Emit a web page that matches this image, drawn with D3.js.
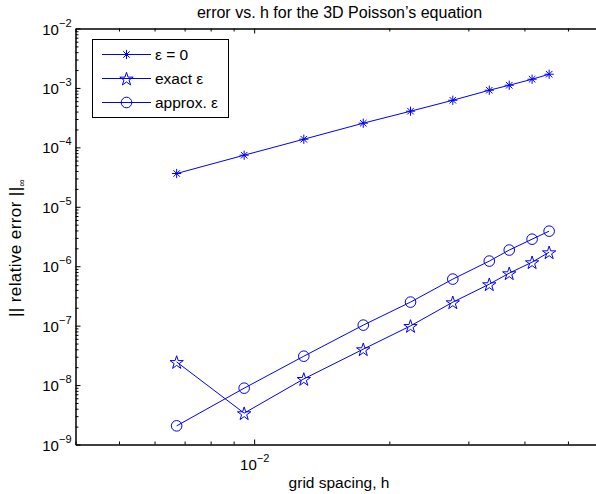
<!DOCTYPE html>
<html>
<head>
<meta charset="utf-8">
<script src="https://cdn.jsdelivr.net/npm/d3@7"></script>
<style>
  html, body { margin: 0; padding: 0; background: #fff; }
  svg { display: block; font-family: "Liberation Sans", Arial, Helvetica, sans-serif; }
</style>
</head>
<body>
<svg id="chart" width="596" height="494"></svg>
<script>
// grid spacing h and the infinity-norm relative error for each run
const hValues   = [0.00672, 0.0095, 0.0129, 0.0175, 0.0223, 0.0277, 0.0334, 0.0370, 0.0416, 0.0454];
const errZero   = [3.63e-5, 7.38e-5, 1.37e-4, 2.55e-4, 4.06e-4, 6.2e-4, 9.15e-4, 1.11e-3, 1.40e-3, 1.70e-3];
const errExact  = [2.45e-8, 3.37e-9, 1.27e-8, 4.02e-8, 9.9e-8, 2.48e-7, 4.99e-7, 7.64e-7, 1.17e-6, 1.72e-6];
const errApprox = [2.06e-9, 8.87e-9, 3.06e-8, 1.02e-7, 2.49e-7, 6.07e-7, 1.22e-6, 1.87e-6, 2.85e-6, 3.89e-6];

const seriesNames   = ["\u03b5 = 0", "exact \u03b5", "approx. \u03b5"];
const seriesMarkers = ["asterisk", "star", "circle"];

const xMajorTicks = [1e-2];
const xMinorTicks = [4e-3, 5e-3, 6e-3, 7e-3, 8e-3, 9e-3, 2e-2, 3e-2, 4e-2, 5e-2, 6e-2];
const yMajorExps  = [-9, -8, -7, -6, -5, -4, -3, -2];

const titleText  = "error vs. h for the 3D Poisson\u2019s equation";
const xLabelText = "grid spacing, h";

const blue = "#0000ff";
const svg = d3.select("#chart");

const axLeft = 75.5, axRight = 603.5, axTop = 28.5, axBottom = 444.5;
const x = d3.scaleLog().domain([4e-3, 6e-2]).range([axLeft, axRight]);
const y = d3.scaleLog().domain([1e-9, 1e-2]).range([axBottom, axTop]);

const yMajorTicks = yMajorExps.map(e => Math.pow(10, e));
const yMinorTicks = [];
yMajorExps.slice(0, -1).forEach(e => {
  for (let k = 2; k <= 9; k++) yMinorTicks.push(k * Math.pow(10, e));
});

const supLabel = (sel, exp) => {
  sel.text(null);
  sel.append("tspan").text("10");
  sel.append("tspan").attr("font-size", 11).attr("dy", -8).text("\u2212" + Math.abs(exp));
};

function styleAxis(g) {
  g.attr("font-family", null).attr("font-size", null);
  g.select(".domain").attr("stroke", "#000").attr("stroke-width", 1);
  g.selectAll(".tick line").attr("stroke", "#000").attr("stroke-width", 1);
  return g;
}

// bottom axis
styleAxis(svg.append("g").attr("transform", `translate(0,${axBottom})`)
  .call(d3.axisBottom(x).tickValues(xMinorTicks).tickSize(-3).tickSizeOuter(0).tickFormat("")));
const gx = styleAxis(svg.append("g").attr("transform", `translate(0,${axBottom})`)
  .call(d3.axisBottom(x).tickValues(xMajorTicks).tickSize(-5).tickSizeOuter(0)));
gx.selectAll(".tick text")
  .attr("y", 25.5).attr("dy", null)
  .attr("fill", "#000").attr("font-size", 15)
  .each(function(d) { supLabel(d3.select(this), Math.round(Math.log10(d))); });

// top axis (mirrored ticks)
styleAxis(svg.append("g").attr("transform", `translate(0,${axTop})`)
  .call(d3.axisTop(x).tickValues(xMinorTicks).tickSize(-3).tickSizeOuter(0).tickFormat("")));
styleAxis(svg.append("g").attr("transform", `translate(0,${axTop})`)
  .call(d3.axisTop(x).tickValues(xMajorTicks).tickSize(-5).tickSizeOuter(0).tickFormat("")));

// left axis
styleAxis(svg.append("g").attr("transform", `translate(${axLeft},0)`)
  .call(d3.axisLeft(y).tickValues(yMinorTicks).tickSize(-3).tickSizeOuter(0).tickFormat("")));
const gy = styleAxis(svg.append("g").attr("transform", `translate(${axLeft},0)`)
  .call(d3.axisLeft(y).tickValues(yMajorTicks).tickSize(-5).tickSizeOuter(0).tickPadding(4)));
gy.selectAll(".tick text")
  .attr("dy", 5.5).attr("fill", "#000").attr("font-size", 15)
  .each(function(d) { supLabel(d3.select(this), Math.round(Math.log10(d))); });

// right axis
styleAxis(svg.append("g").attr("transform", `translate(${axRight},0)`)
  .call(d3.axisRight(y).tickValues(yMinorTicks).tickSize(-3).tickSizeOuter(0).tickFormat("")));
styleAxis(svg.append("g").attr("transform", `translate(${axRight},0)`)
  .call(d3.axisRight(y).tickValues(yMajorTicks).tickSize(-5).tickSizeOuter(0).tickFormat("")));

// marker shapes
function starPath(R) {
  const pts = [];
  for (let i = 0; i < 10; i++) {
    const r = i % 2 === 0 ? R : R * 0.382;
    const a = -Math.PI / 2 + i * Math.PI / 5;
    pts.push([r * Math.cos(a), r * Math.sin(a)]);
  }
  return "M" + pts.map(p => p[0].toFixed(2) + "," + p[1].toFixed(2)).join("L") + "Z";
}
function asteriskPath(R) {
  const d = R * Math.SQRT1_2;
  return `M${-R},0L${R},0M0,${-R}L0,${R}M${-d},${-d}L${d},${d}M${-d},${d}L${d},${-d}`;
}
function drawMarker(g, kind, cx, cy) {
  if (kind === "circle") {
    g.append("circle").attr("cx", cx).attr("cy", cy).attr("r", 5.3)
      .attr("fill", "none").attr("stroke", blue).attr("stroke-width", 1);
  } else if (kind === "star") {
    g.append("path").attr("transform", `translate(${cx},${cy + 0.8})`).attr("d", starPath(7))
      .attr("fill", "none").attr("stroke", blue).attr("stroke-width", 1);
  } else {
    g.append("path").attr("transform", `translate(${cx},${cy})`).attr("d", asteriskPath(4.6))
      .attr("fill", "none").attr("stroke", blue).attr("stroke-width", 1);
  }
}

// series
const allSeries = [errZero, errExact, errApprox];
const line = d3.line().x(d => x(d[0])).y(d => y(d[1]));
const plot = svg.append("g");
allSeries.forEach((vals, i) => {
  const pts = hValues.map((h, j) => [h, vals[j]]);
  plot.append("path").attr("d", line(pts))
    .attr("fill", "none").attr("stroke", blue).attr("stroke-width", 1);
  pts.forEach(p => drawMarker(plot, seriesMarkers[i], x(p[0]), y(p[1])));
});

// legend
const lg = svg.append("g");
lg.append("rect").attr("x", 92.5).attr("y", 39.5).attr("width", 136).attr("height", 78)
  .attr("fill", "#fff").attr("stroke", "#000").attr("stroke-width", 1);
seriesNames.forEach((name, i) => {
  const ly = 54.5 + i * 24;
  lg.append("line").attr("x1", 102).attr("x2", 151).attr("y1", ly).attr("y2", ly)
    .attr("stroke", blue).attr("stroke-width", 1);
  drawMarker(lg, seriesMarkers[i], 126.5, ly);
  lg.append("text").attr("x", 155).attr("y", ly + 5.5).attr("font-size", 15.5)
    .attr("fill", "#000").text(name);
});

// titles
svg.append("text").attr("x", 339.5).attr("y", 17.5).attr("text-anchor", "middle")
  .attr("font-size", 16).attr("fill", "#000").text(titleText);
svg.append("text").attr("x", 339).attr("y", 488).attr("text-anchor", "middle")
  .attr("font-size", 15.5).attr("fill", "#000").text(xLabelText);

const yl = svg.append("text").attr("transform", "translate(21,248) rotate(-90)")
  .attr("text-anchor", "middle").attr("font-size", 17).attr("letter-spacing", 0.4)
  .attr("fill", "#000");
yl.append("tspan").text("|| relative error ||");
yl.append("tspan").attr("font-size", 10).attr("dy", 4).text("\u221e");
</script>
</body>
</html>
